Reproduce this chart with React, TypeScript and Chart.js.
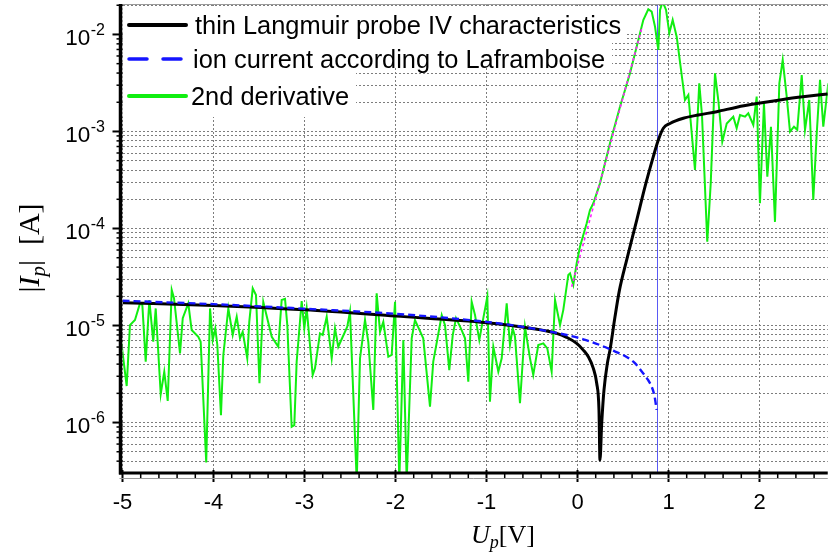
import React, { useEffect, useRef } from "react";
import { Chart, registerables } from "chart.js";

Chart.register(...registerables);

// ---------------- data ----------------
const X_MIN = -5;
const X_MAX = 2.75;
const Y_MIN = 3.02e-7;
const Y_MAX = 2.06e-2;

const xTickValues = [-5, -4, -3, -2, -1, 0, 1, 2];
const yTickExponents = [-2, -3, -4, -5, -6];

const legendLabels = [
  "thin Langmuir probe IV characteristics",
  "ion current according to Laframboise",
  "2nd derivative",
];

// thin Langmuir probe IV characteristics |I_p| (A) vs U_p (V)
const probeVoltage = [
  -5.0, -4.0, -3.0, -2.0, -1.0, -0.5, -0.229, -0.119, -0.009, 0.064,
  0.119, 0.174, 0.211, 0.236, 0.247, 0.266, 0.291, 0.328, 0.357, 0.412,
  0.46, 0.54, 0.651, 0.742, 0.833, 0.888, 0.943, 1.016, 1.163, 1.327,
  1.53, 1.75, 1.97, 2.26, 2.5, 2.75,
];
const probeCurrent = [
  1.72e-5, 1.61e-5, 1.45e-5, 1.25e-5, 1.07e-5, 9.33e-6, 8.3e-6, 7.55e-6, 6.55e-6, 5.58e-6,
  4.76e-6, 3.62e-6, 2.54e-6, 1.35e-6, 4.1e-7, 9.8e-7, 2.16e-6, 4.07e-6, 5.58e-6, 1.23e-5,
  2.29e-5, 4.73e-5, 1.22e-4, 2.7e-4, 5.5e-4, 8.17e-4, 1.08e-3, 1.21e-3, 1.37e-3, 1.48e-3,
  1.6e-3, 1.78e-3, 1.94e-3, 2.14e-3, 2.29e-3, 2.44e-3,
];

// ion current according to Laframboise
const ionVoltage = [-5.0, -4.0, -3.0, -2.0, -1.0, -0.5, 0.064, 0.357, 0.613, 0.723, 0.775, 0.815, 0.845, 0.87];
const ionCurrent = [1.8e-5, 1.66e-5, 1.49e-5, 1.32e-5, 1.09e-5, 9.35e-6, 7.21e-6, 5.69e-6, 4.24e-6, 3.21e-6, 2.75e-6, 2.34e-6, 1.9e-6, 1.35e-6];

// 2nd derivative (arbitrary scaling, plotted on same axis)
const derivativeVoltage = [
  -5.057, -4.954, -4.918, -4.863, -4.808, -4.782, -4.745, -4.705, -4.662, -4.635,
  -4.58, -4.541, -4.503, -4.459, -4.434, -4.368, -4.338, -4.277, -4.24, -4.167,
  -4.141, -4.08, -4.038, -4.009, -3.98, -3.958, -3.918, -3.892, -3.837, -3.789,
  -3.745, -3.709, -3.679, -3.629, -3.607, -3.569, -3.533, -3.495, -3.453, -3.36,
  -3.288, -3.251, -3.214, -3.189, -3.141, -3.112, -3.086, -3.031, -3.002, -2.976,
  -2.91, -2.885, -2.83, -2.8, -2.756, -2.701, -2.665, -2.629, -2.53, -2.5,
  -2.426, -2.39, -2.335, -2.299, -2.244, -2.207, -2.17, -2.134, -2.079, -2.042,
  -2.005, -1.958, -1.914, -1.877, -1.822, -1.786, -1.695, -1.621, -1.585, -1.492,
  -1.456, -1.409, -1.371, -1.335, -1.273, -1.236, -1.2, -1.163, -1.126, -1.079,
  -1.035, -0.991, -0.962, -0.925, -0.87, -0.833, -0.778, -0.742, -0.712, -0.687,
  -0.632, -0.577, -0.522, -0.486, -0.431, -0.376, -0.332, -0.284, -0.247, -0.192,
  -0.156, -0.101, -0.082, -0.046, -0.009, 0.027, 0.101, 0.137, 0.174, 0.247,
  0.357, 0.467, 0.577, 0.687, 0.723, 0.778, 0.815, 0.852, 0.888, 0.907,
  0.936, 0.973, 1.009, 1.046, 1.09, 1.181, 1.218, 1.291, 1.338, 1.368,
  1.426, 1.464, 1.511, 1.547, 1.591, 1.64, 1.712, 1.749, 1.786, 1.841,
  1.877, 1.932, 1.969, 2.005, 2.049, 2.086, 2.126, 2.17, 2.218, 2.255,
  2.299, 2.335, 2.379, 2.415, 2.464, 2.5, 2.547, 2.591, 2.629, 2.665,
  2.701, 2.756,
];
const derivativeValue = [
  1.45e-5, 2.38e-6, 1.01e-5, 1.14e-5, 1.69e-5, 1.63e-5, 4.24e-6, 1.83e-5, 6.8e-6, 1.5e-5,
  1.97e-6, 3.34e-6, 1.67e-6, 2.32e-5, 1.91e-5, 5.16e-6, 1.19e-5, 1.69e-5, 8.98e-6, 7.66e-6,
  6.8e-6, 3.87e-7, 1.5e-5, 7.08e-6, 9.35e-6, 6.3e-6, 1.19e-6, 4.97e-6, 1.5e-5, 7.98e-6,
  1.23e-5, 7.38e-6, 8.63e-6, 4.59e-6, 1.09e-5, 2.42e-5, 2.06e-5, 2.54e-6, 1.75e-5, 7.66e-6,
  6.04e-6, 1.83e-5, 1.88e-5, 1.01e-5, 9.06e-7, 9.42e-7, 4.24e-6, 1.79e-5, 9.35e-6, 1.5e-5,
  3.09e-6, 3.62e-6, 8.3e-6, 7.98e-6, 1.23e-5, 4.59e-6, 9.35e-6, 6.04e-6, 9.72e-6, 1.39e-5,
  2.5e-7, 4.59e-6, 1.14e-5, 6.8e-6, 1.35e-6, 2.15e-5, 8.63e-6, 1.09e-5, 4.76e-6, 4.97e-6,
  1.76e-5, 2.5e-7, 7.08e-6, 2.5e-7, 7.38e-6, 1.14e-5, 7.38e-6, 1.46e-6, 4.24e-6, 1.28e-5,
  1.01e-5, 3.47e-6, 7.98e-6, 1.19e-5, 8.98e-6, 7.38e-6, 2.64e-6, 1.76e-5, 1.28e-5, 7.08e-6,
  1.19e-5, 1.98e-5, 1.64e-6, 6.04e-6, 3.34e-6, 4.59e-6, 1.69e-5, 6.3e-6, 9.35e-6, 7.66e-6,
  1.58e-6, 9.72e-6, 4.59e-6, 3.09e-6, 6.3e-6, 6.55e-6, 5.82e-6, 3.34e-6, 1.83e-5, 1.01e-5,
  1.45e-5, 3.32e-5, 3.45e-5, 2.62e-5, 4.38e-5, 6.49e-5, 1.13e-4, 1.55e-4, 1.82e-4, 2.92e-4,
  7.55e-4, 1.8e-3, 3.98e-3, 1.03e-2, 1.41e-2, 1.82e-2, 1.72e-2, 1.2e-2, 6.92e-3, 1.79e-2,
  2.18e-2, 1.79e-2, 1.03e-2, 1.41e-2, 9.49e-3, 2.11e-3, 2.38e-3, 4.01e-4, 3.14e-3, 1.48e-3,
  7.31e-5, 2.92e-4, 3.98e-3, 2.11e-3, 7.85e-4, 1.21e-3, 1.42e-3, 1.08e-3, 1.48e-3, 1.42e-3,
  1.54e-3, 1.17e-3, 2.29e-3, 1.82e-4, 1.95e-3, 3.42e-4, 1.12e-3, 1.17e-4, 3.14e-3, 5.46e-3,
  2.29e-3, 9.95e-4, 1.12e-3, 1.04e-3, 3.82e-3, 1.04e-3, 2.11e-3, 1.97e-4, 9.57e-4, 3.4e-3,
  1.12e-3, 3.14e-3,
];

// exponential fit of the electron retardation region
const fitVoltage = [-0.064, 0.705];
const fitCurrent = [2.51e-5, 1.15e-2];

// vertical marker (plasma potential)
const plasmaPotential = 0.875;

// ---------------- helpers ----------------
const zip = (xs: number[], ys: number[]) => xs.map((x, i) => ({ x, y: ys[i] }));

const SANS = '"Liberation Sans", Arial, Helvetica, sans-serif';
const SERIF = '"Liberation Serif", "Times New Roman", Times, serif';

type Part = { text: string; font: string; dy: number };

function richWidth(ctx: CanvasRenderingContext2D, parts: Part[]) {
  let w = 0;
  for (const p of parts) {
    ctx.font = p.font;
    w += ctx.measureText(p.text).width;
  }
  return w;
}

function drawRich(ctx: CanvasRenderingContext2D, parts: Part[], x: number, y: number) {
  let cx = x;
  ctx.textAlign = "left";
  ctx.textBaseline = "alphabetic";
  for (const p of parts) {
    ctx.font = p.font;
    ctx.fillText(p.text, cx, y + p.dy);
    cx += ctx.measureText(p.text).width;
  }
}

const decorations = {
  id: "decorations",
  beforeDatasetsDraw(chart: any) {
    const { ctx, chartArea: a, scales } = chart;
    ctx.save();
    // legend backgrounds (cover grid lines)
    ctx.fillStyle = "#ffffff";
    ctx.fillRect(a.left, a.top + 2, 627 - a.left, 40 - a.top - 2);
    ctx.fillRect(a.left, 40, 612 - a.left, 26);
    ctx.fillRect(a.left, 66, 356 - a.left, 51);
    // vertical marker line
    const px = Math.round(scales.x.getPixelForValue(plasmaPotential)) + 0.5;
    ctx.strokeStyle = "#5a5af5";
    ctx.lineWidth = 1;
    ctx.beginPath();
    ctx.moveTo(px, a.top);
    ctx.lineTo(px, a.bottom);
    ctx.stroke();
    ctx.restore();
  },
  afterDraw(chart: any) {
    const { ctx, chartArea: a, scales } = chart;
    const xs = scales.x;
    const ys = scales.y;
    ctx.save();
    ctx.strokeStyle = "#000";
    ctx.fillStyle = "#000";

    // y ticks
    for (let e = -7; e <= -2; e++) {
      for (let m = 1; m <= 9; m++) {
        const v = m * Math.pow(10, e);
        if (v < Y_MIN || v > Y_MAX) continue;
        const py = ys.getPixelForValue(v);
        const major = m === 1;
        ctx.lineWidth = major ? 2 : 1.5;
        ctx.beginPath();
        ctx.moveTo(a.left - (major ? 10 : 6), py);
        ctx.lineTo(a.left, py);
        ctx.stroke();
      }
    }
    // x ticks
    for (let k = Math.ceil(X_MIN * 5); k <= Math.floor(X_MAX * 5); k++) {
      const v = k / 5;
      const px = xs.getPixelForValue(v);
      const major = k % 5 === 0;
      ctx.lineWidth = major ? 2 : 1.5;
      ctx.beginPath();
      ctx.moveTo(px, a.bottom - (major ? 3 : 0));
      ctx.lineTo(px, a.bottom + (major ? 9 : 5));
      ctx.stroke();
    }
    // gray frame lines of tick strips
    ctx.strokeStyle = "#9a9a9a";
    ctx.lineWidth = 1;
    ctx.beginPath();
    ctx.moveTo(a.left - 3, a.bottom + 5.5);
    ctx.lineTo(a.right, a.bottom + 5.5);
    ctx.stroke();
    ctx.beginPath();
    ctx.moveTo(a.left, a.top + 0.5);
    ctx.lineTo(a.right, a.top + 0.5);
    ctx.stroke();

    // axis lines
    ctx.strokeStyle = "#000";
    ctx.lineWidth = 3.5;
    ctx.beginPath();
    ctx.moveTo(a.left - 2, a.top);
    ctx.lineTo(a.left - 2, a.bottom + 1.5);
    ctx.stroke();
    ctx.lineWidth = 3;
    ctx.beginPath();
    ctx.moveTo(a.left - 3.5, a.bottom);
    ctx.lineTo(a.right, a.bottom);
    ctx.stroke();

    // x tick labels
    ctx.font = `22px ${SANS}`;
    ctx.textAlign = "center";
    ctx.textBaseline = "alphabetic";
    for (const v of xTickValues) {
      ctx.fillText(String(v), xs.getPixelForValue(v), 509);
    }
    // y tick labels 10^e
    for (const e of yTickExponents) {
      const py = ys.getPixelForValue(Math.pow(10, e));
      const sup = String(e);
      ctx.font = `16px ${SANS}`;
      const sw = ctx.measureText(sup).width;
      const supX = 105 - sw;
      ctx.textAlign = "left";
      ctx.fillText(sup, supX, py + 0.5);
      ctx.font = `22.5px ${SANS}`;
      ctx.textAlign = "right";
      ctx.fillText("10", supX - 0.5, py + 10.5);
    }

    // x axis title U_p[V]
    const xParts: Part[] = [
      { text: "U", font: `italic 26px ${SERIF}`, dy: 0 },
      { text: "p", font: `italic 18px ${SERIF}`, dy: 5 },
      { text: "[V]", font: `26px ${SERIF}`, dy: 0 },
    ];
    const xw = richWidth(ctx, xParts);
    drawRich(ctx, xParts, 503 - xw / 2, 543);

    // y axis title |I_p| [A]
    const yParts: Part[] = [
      { text: "|", font: `30px ${SERIF}`, dy: 0 },
      { text: "I", font: `italic 30px ${SERIF}`, dy: 0 },
      { text: "p", font: `italic 21px ${SERIF}`, dy: 6 },
      { text: "|", font: `30px ${SERIF}`, dy: 0 },
      { text: "  [A]", font: `30px ${SERIF}`, dy: 0 },
    ];
    const yw = richWidth(ctx, yParts);
    ctx.save();
    ctx.translate(39, 248);
    ctx.rotate(-Math.PI / 2);
    drawRich(ctx, yParts, -yw / 2, 0);
    ctx.restore();

    // legend
    const rows = [
      { sample: 25, base: 33.5, tx: 195, color: "#000000", width: 4, dash: [] as number[] },
      { sample: 59, base: 67.5, tx: 193, color: "#1515ff", width: 3.5, dash: [18, 16] },
      { sample: 96, base: 105, tx: 191, color: "#11ee11", width: 4, dash: [] as number[] },
    ];
    rows.forEach((r, i) => {
      ctx.strokeStyle = r.color;
      ctx.lineWidth = r.width;
      ctx.lineCap = "round";
      ctx.setLineDash(r.dash);
      ctx.beginPath();
      ctx.moveTo(129, r.sample);
      ctx.lineTo(186, r.sample);
      ctx.stroke();
      ctx.setLineDash([]);
      ctx.lineCap = "butt";
      ctx.fillStyle = "#000";
      ctx.font = `25.4px ${SANS}`;
      ctx.textAlign = "left";
      ctx.fillText(legendLabels[i], r.tx, r.base);
    });
    ctx.restore();
  },
};

export default function App() {
  const canvasRef = useRef<HTMLCanvasElement | null>(null);

  useEffect(() => {
    document.body.style.margin = "0";
    const canvas = canvasRef.current;
    if (!canvas) return;

    const gridColor = "#7d7d7d";
    const chart = new Chart(canvas, {
      type: "scatter",
      data: {
        datasets: [
          {
            label: "fit",
            data: zip(fitVoltage, fitCurrent),
            showLine: true,
            borderColor: "#ff22ff",
            borderWidth: 1.6,
            borderDash: [3, 3],
            pointRadius: 0,
          },
          {
            label: legendLabels[1],
            data: zip(ionVoltage, ionCurrent),
            showLine: true,
            borderColor: "#1515ff",
            borderWidth: 2.4,
            borderDash: [7, 4],
            cubicInterpolationMode: "monotone",
            pointRadius: 0,
          },
          {
            label: legendLabels[0],
            data: zip(probeVoltage, probeCurrent),
            showLine: true,
            borderColor: "#000000",
            borderWidth: 3,
            pointRadius: 0,
            cubicInterpolationMode: "monotone",
          },
          {
            label: legendLabels[2],
            data: zip(derivativeVoltage, derivativeValue),
            showLine: true,
            borderColor: "#11ee11",
            borderWidth: 2,
            pointRadius: 0,
            tension: 0,
          },
        ],
      },
      options: {
        animation: false,
        responsive: false,
        events: [],
        layout: { padding: { left: 122.5, right: 1.25, top: 4, bottom: 84 } },
        plugins: { legend: { display: false }, tooltip: { enabled: false } },
        scales: {
          x: {
            type: "linear",
            min: X_MIN,
            max: X_MAX,
            afterFit: (s: any) => { s.height = 0; },
            afterBuildTicks: (s: any) => { s.ticks = xTickValues.map((v) => ({ value: v })); },
            ticks: { display: false },
            grid: { color: gridColor, lineWidth: 1, drawTicks: false },
            border: { display: false, dash: [2, 2] },
          },
          y: {
            type: "logarithmic",
            min: Y_MIN,
            max: Y_MAX,
            afterFit: (s: any) => { s.width = 0; },
            afterBuildTicks: (s: any) => {
              const t: { value: number }[] = [];
              for (let e = -7; e <= -2; e++) {
                for (let m = 1; m <= 9; m++) {
                  const v = m * Math.pow(10, e);
                  if (v >= Y_MIN && v <= Y_MAX) t.push({ value: v });
                }
              }
              s.ticks = t;
            },
            ticks: { display: false },
            grid: { color: gridColor, lineWidth: 1, drawTicks: false },
            border: { display: false, dash: [2, 2] },
          },
        },
      },
      plugins: [decorations],
    } as any);

    return () => chart.destroy();
  }, []);

  return (
    <div style={{ width: 829, height: 557, background: "#fff" }}>
      <canvas ref={canvasRef} width={829} height={557} style={{ display: "block" }} />
    </div>
  );
}
